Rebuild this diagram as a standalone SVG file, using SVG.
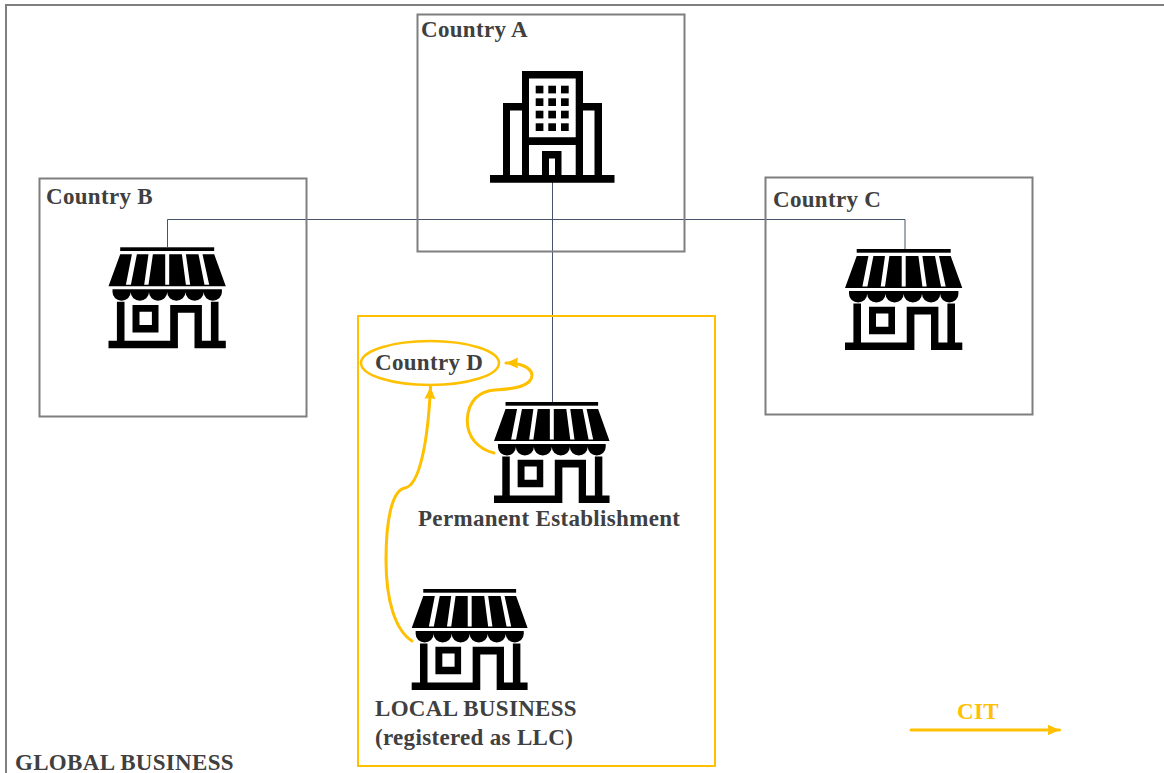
<svg xmlns="http://www.w3.org/2000/svg" xmlns:xlink="http://www.w3.org/1999/xlink" width="1164" height="773" viewBox="0 0 1164 773">
<style>
.box{fill:none;stroke:#7f7f7f;stroke-width:2}
.lbl{font-family:"Liberation Serif","Times New Roman",serif;font-weight:700;font-size:23px;letter-spacing:.32px;fill:#404040}
.cit-lbl{font-family:"Liberation Serif","Times New Roman",serif;font-weight:700;font-size:23px;letter-spacing:.32px;fill:#ffc000}
.wire{fill:none;stroke:#44546a;stroke-width:1}
.cit{fill:none;stroke:#ffc000;stroke-width:3;stroke-linecap:round}
</style>
<defs>
<marker id="arr" markerUnits="userSpaceOnUse" markerWidth="14" markerHeight="12" refX="12" refY="5.500" orient="auto"><path d="M0 0L12 5.500L0 11L1 5.500Z" fill="#ffc000"/></marker>
<g id="store">
<rect x="11.700" y="0" width="94" height="3.700"/>
<path fill-rule="evenodd" d="M11.700 7H105.700L117.300 39H0Z M23.400 7H28.400L22.400 37.500H17.400Z M40 7H44.400L40 37.500H35.700Z M56.700 7H60.700V37.500H56.700Z M73.400 7H77.400L81.700 37.500H77.400Z M90 7H94L100.700 37.500H96Z"/>
<path d="M4 42H113.400V45A9.100 8.400 0 0 1 95.200 45A9.100 8.400 0 0 1 77 45A9.100 8.400 0 0 1 58.700 45A9.100 8.400 0 0 1 40.500 45A9.100 8.400 0 0 1 22.200 45A9.100 8.400 0 0 1 4 45Z"/>
<path d="M8.400 54.400H16V93.400H61.700V57.700H93.400V93.400H102.400V54.400H110V93.400H117.300V101H86V65.400H69.400V101H0V93.400H8.400Z"/>
<path fill-rule="evenodd" d="M24 57.700H50V85.300H24Z M31 64.400V77.700H43.400V64.400Z"/>
</g>
</defs>
<rect class="box" x="6" y="5" width="1170" height="790"/>
<g id="connectors">
<path class="wire" d="M167.500 247V219.500H905V249"/>
<path class="wire" d="M552.500 182V402"/>
<path class="cit" d="M494 453C478 449 467 437 467.300 420C468 400 480 391 495 390C515 389 532 386 532 375C531 367 520 363 506 363" marker-end="url(#arr)"/>
<path class="cit" d="M412 641C395 630 386 600 386 560C386 520 392 490 405 488C420 485 428 440 430.500 387" marker-end="url(#arr)"/>
<path class="cit" d="M911 730H1059.500" marker-end="url(#arr)"/>
</g>
<g id="country-a">
<rect class="box" x="417.500" y="14.500" width="267" height="237"/>
<text class="lbl" x="421" y="37">Country A</text>
<path fill-rule="evenodd" d="M490 175H503V103H522V71H583V103H602V175H614.500V182.700H490Z M510 110.500V175H522V110.500Z M583 110.500V175H594.500V110.500Z M529 78.500V137.300H575.700V78.500Z M529 145V175H542V151H561.500V175H575.700V145Z M549 158.500V175H555V158.500Z"/>
<g id="windows">
<rect x="535.700" y="85.700" width="7.700" height="7.700"/><rect x="548.300" y="85.700" width="7.700" height="7.700"/><rect x="561" y="85.700" width="7.700" height="7.700"/>
<rect x="535.700" y="98.300" width="7.700" height="7.700"/><rect x="548.300" y="98.300" width="7.700" height="7.700"/><rect x="561" y="98.300" width="7.700" height="7.700"/>
<rect x="535.700" y="110.700" width="7.700" height="7.700"/><rect x="548.300" y="110.700" width="7.700" height="7.700"/><rect x="561" y="110.700" width="7.700" height="7.700"/>
<rect x="535.700" y="123.300" width="7.700" height="7.700"/><rect x="548.300" y="123.300" width="7.700" height="7.700"/><rect x="561" y="123.300" width="7.700" height="7.700"/>
</g>
</g>
<g id="country-b">
<rect class="box" x="39.500" y="178.500" width="267" height="238"/>
<text class="lbl" x="46" y="204">Country B</text>
<use href="#store" transform="translate(108.500 247.300)"/>
</g>
<g id="country-c">
<rect class="box" x="765.500" y="177.500" width="267" height="237"/>
<text class="lbl" x="773" y="207">Country C</text>
<use href="#store" transform="translate(845 249)"/>
</g>
<g id="country-d">
<rect x="358" y="316" width="357" height="450" fill="none" stroke="#ffc000" stroke-width="2"/>
<ellipse cx="430" cy="363" rx="69" ry="22" fill="none" stroke="#ffc000" stroke-width="2.500"/>
<text class="lbl" x="375" y="370">Country D</text>
</g>
<g id="permanent-establishment">
<use href="#store" transform="translate(494 402) scale(.985 1)"/>
<text class="lbl" x="418" y="526">Permanent Establishment</text>
</g>
<g id="local-business">
<use href="#store" transform="translate(411.700 589) scale(.988 1)"/>
<text class="lbl" x="375" y="716">LOCAL BUSINESS</text>
<text class="lbl" x="375" y="745">(registered as LLC)</text>
</g>
<g id="legend">
<text class="cit-lbl" x="957" y="719">CIT</text>
</g>
<text class="lbl" x="15" y="770">GLOBAL BUSINESS</text>
</svg>
